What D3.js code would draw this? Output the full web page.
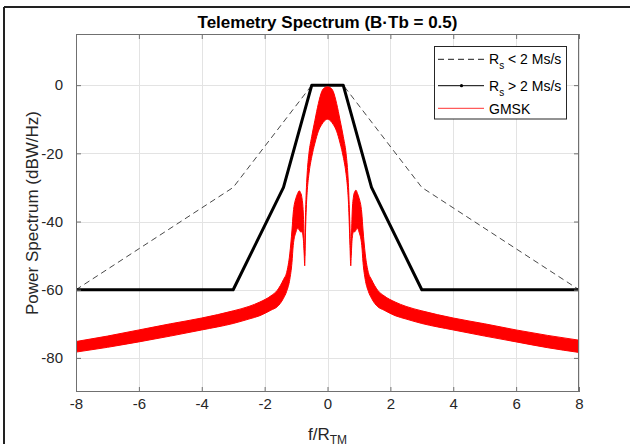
<!DOCTYPE html>
<html>
<head>
<meta charset="utf-8">
<script src="https://cdn.jsdelivr.net/npm/d3@7"></script>
<style>
  html, body { margin: 0; padding: 0; background: #fff; }
  svg { display: block; font-family: "Liberation Sans", Arial, Helvetica, sans-serif; }
</style>
</head>
<body>
<svg id="chart" width="630" height="444"></svg>
<script>
// ---- data ----
const xTicks = [-8, -6, -4, -2, 0, 2, 4, 6, 8];
const yTicks = [-80, -60, -40, -20, 0];

// Rs < 2 Ms/s mask (dashed)
const maskLowF = [-8, -3, -0.5, 0.5, 3, 8];
const maskLowP = [-60, -30, 0, 0, -30, -60];

// Rs > 2 Ms/s mask (solid)
const maskHighF = [-8, -3, -1.4, -0.5, 0.5, 1.4, 3, 8];
const maskHighP = [-60, -60, -30, 0, 0, -30, -60, -60];

// GMSK spectrum envelope (upper / lower edges of the noisy trace)
const gmskF = [-8, -7, -6, -5, -4, -3, -2.5, -2.15, -1.8, -1.6, -1.5, -1.4, -1.3, -1.2, -1.13, -1.09, -1.0, -0.95, -0.9, -0.86, -0.82, -0.77, -0.74, -0.725,
  -0.71, -0.69, -0.67, -0.64, -0.59, -0.5, -0.4, -0.29, -0.18, -0.1, 0,
  0.1, 0.18, 0.29, 0.4, 0.5, 0.59, 0.64, 0.67, 0.69, 0.715,
  0.74, 0.755, 0.785, 0.83, 0.87, 0.905, 0.955, 1.0, 1.09, 1.13, 1.2, 1.3, 1.4, 1.5, 1.6, 1.8, 2.15, 2.5, 3, 4, 5, 6, 7, 8];
const gmskUpper = [-75.2, -73.6, -71.8, -70.0, -68.3, -66.2, -64.9, -63.6, -61.8, -60.2, -58.8, -57.0, -55.0, -49.5, -42.5, -37.5, -33.0, -31.8, -31.0, -31.5, -32.7, -37.5, -46.8, -50.0,
  -42.0, -35.0, -30.0, -25.0, -20.0, -15.0, -10.3, -5.4, -1.8, -0.8, -0.5,
  -0.8, -1.8, -5.4, -10.3, -15.0, -20.0, -25.0, -30.0, -35.0, -42.0,
  -50.0, -46.5, -37.5, -32.5, -31.2, -30.8, -31.8, -33.0, -37.5, -42.5, -49.5, -55.0, -57.0, -58.8, -60.2, -61.8, -63.6, -64.9, -66.2, -68.3, -70.0, -71.8, -73.4, -74.8];
const gmskLower = [-78.3, -76.9, -75.3, -73.6, -71.8, -69.9, -68.6, -67.6, -66.0, -65.0, -64.0, -62.5, -60.5, -57.0, -52.0, -47.0, -43.0, -42.0, -42.5, -43.0, -43.0, -45.0, -50.0, -53.0,
  -47.0, -40.0, -35.0, -30.5, -26.0, -21.0, -17.0, -13.5, -11.5, -10.5, -10.0,
  -10.5, -11.5, -13.5, -17.0, -21.0, -26.0, -30.5, -35.0, -40.0, -47.0,
  -53.0, -50.0, -45.0, -43.0, -43.0, -42.5, -42.0, -43.0, -47.0, -52.0, -57.0, -60.5, -62.5, -64.0, -65.0, -66.0, -67.6, -68.6, -69.9, -71.8, -73.6, -75.3, -77.0, -78.4];

const titleText = "Telemetry Spectrum (B\u00B7Tb = 0.5)";
const yLabelText = "Power Spectrum (dBW/Hz)";

// ---- layout ----
const L = 76, R = 579, T = 34, B = 392;
const svg = d3.select("#chart");
const x = d3.scaleLinear().domain([-8, 8]).range([L, R]);
const y = d3.scaleLinear().domain([-90, 15]).range([B, T]);
const fmt = d => String(d);

// outer frame (screenshot border)
svg.append("line").attr("x1", 4).attr("x2", 630).attr("y1", 7).attr("y2", 7)
  .attr("stroke", "#222").attr("stroke-width", 2);
svg.append("line").attr("x1", 4).attr("x2", 4).attr("y1", 7).attr("y2", 444)
  .attr("stroke", "#222").attr("stroke-width", 2);

// grid
const grid = svg.append("g").attr("stroke", "#e3e3e3").attr("stroke-width", 1);
grid.selectAll(".gx").data(xTicks).join("line")
  .attr("x1", d => Math.round(x(d)) + 0.5).attr("x2", d => Math.round(x(d)) + 0.5)
  .attr("y1", T).attr("y2", B);
grid.selectAll(".gy").data(yTicks).join("line")
  .attr("y1", d => Math.round(y(d)) + 0.5).attr("y2", d => Math.round(y(d)) + 0.5)
  .attr("x1", L).attr("x2", R);

// clip
svg.append("clipPath").attr("id", "clip").append("rect")
  .attr("x", L).attr("y", T).attr("width", R - L).attr("height", B - T);
const plot = svg.append("g").attr("clip-path", "url(#clip)");

const line = d3.line().x(d => x(d[0])).y(d => y(d[1]));

plot.append("path")
  .datum(maskLowF.map((f, i) => [f, maskLowP[i]]))
  .attr("d", line).attr("fill", "none")
  .attr("stroke", "#333").attr("stroke-width", 0.9).attr("stroke-dasharray", "6,4");

plot.append("path")
  .datum(maskHighF.map((f, i) => [f, maskHighP[i]]))
  .attr("d", line).attr("fill", "none")
  .attr("stroke", "#000").attr("stroke-width", 3).attr("stroke-linejoin", "round");

const area = d3.area()
  .x(d => x(d.f)).y0(d => y(d.lo)).y1(d => y(d.hi))
  .curve(d3.curveMonotoneX);
const gm = gmskF.map((f, i) => ({ f, hi: gmskUpper[i], lo: gmskLower[i] }));
plot.append("path").datum(gm).attr("d", area)
  .attr("fill", "#ff0000").attr("stroke", "#ff0000").attr("stroke-width", 1);

// box
svg.append("rect").attr("x", L + 0.5).attr("y", T + 0.5)
  .attr("width", R - L - 1).attr("height", B - T - 1)
  .attr("fill", "none").attr("stroke", "#707070").attr("stroke-width", 1);

// axes
function styleAxis(g) {
  g.select(".domain").remove();
  g.selectAll(".tick line").attr("stroke", "#707070");
  g.selectAll(".tick text").attr("fill", "#262626").attr("font-size", 15)
    .attr("font-family", "'Liberation Sans', Arial, Helvetica, sans-serif");
}
svg.append("g").attr("transform", `translate(0,${B})`)
  .call(d3.axisBottom(x).tickValues(xTicks).tickSizeInner(-5).tickSizeOuter(0).tickPadding(14).tickFormat(fmt))
  .call(styleAxis)
  .call(g => g.selectAll(".tick text").attr("dy", "0.2em"));
svg.append("g").attr("transform", `translate(0,${T})`)
  .call(d3.axisTop(x).tickValues(xTicks).tickSizeInner(-5).tickSizeOuter(0).tickFormat(""))
  .call(styleAxis);
svg.append("g").attr("transform", `translate(${L},0)`)
  .call(d3.axisLeft(y).tickValues(yTicks).tickSizeInner(-5).tickSizeOuter(0).tickPadding(13).tickFormat(fmt))
  .call(styleAxis);
svg.append("g").attr("transform", `translate(${R},0)`)
  .call(d3.axisRight(y).tickValues(yTicks).tickSizeInner(-5).tickSizeOuter(0).tickFormat(""))
  .call(styleAxis);

// title
svg.append("text").attr("x", (L + R) / 2).attr("y", 28)
  .attr("text-anchor", "middle").attr("font-size", 17).attr("font-weight", "bold")
  .attr("fill", "#000").text(titleText);

// y label
svg.append("text").attr("transform", `translate(38,${(T + B) / 2}) rotate(-90)`)
  .attr("text-anchor", "middle").attr("font-size", 17).attr("fill", "#262626")
  .text(yLabelText);

// x label f/R_TM
const xl = svg.append("text").attr("x", (L + R) / 2).attr("y", 440)
  .attr("text-anchor", "middle").attr("font-size", 17).attr("fill", "#262626");
xl.append("tspan").text("f/R");
xl.append("tspan").attr("font-size", 12).attr("dy", 4).text("TM");

// legend
const lg = svg.append("g");
lg.append("rect").attr("x", 434.5).attr("y", 46.5).attr("width", 132).attr("height", 72.5)
  .attr("fill", "#fff").attr("stroke", "#262626").attr("stroke-width", 1);
const rows = [
  { y: 59.3, type: "dash", label: ["R", "s", " < 2 Ms/s"] },
  { y: 85.7, type: "solid", label: ["R", "s", " > 2 Ms/s"] },
  { y: 108.3, type: "red", label: ["GMSK"] }
];
rows.forEach(r => {
  const ln = lg.append("line").attr("x1", 438).attr("x2", 484).attr("y1", r.y).attr("y2", r.y);
  if (r.type === "dash") ln.attr("stroke", "#000").attr("stroke-width", 0.9).attr("stroke-dasharray", "6,4");
  if (r.type === "solid") {
    ln.attr("stroke", "#000").attr("stroke-width", 1);
    lg.append("circle").attr("cx", 461.5).attr("cy", r.y).attr("r", 1.6).attr("fill", "#000");
  }
  if (r.type === "red") ln.attr("stroke", "#ff3333").attr("stroke-width", 1);
  const t = lg.append("text").attr("x", 489).attr("y", r.y + 5).attr("font-size", 14).attr("fill", "#000");
  if (r.label.length === 3) {
    t.append("tspan").text(r.label[0]);
    t.append("tspan").attr("font-size", 10).attr("dy", 5).text(r.label[1]);
    t.append("tspan").attr("dy", -5).text(r.label[2]);
  } else {
    t.attr("y", r.y + 5.7).text(r.label[0]);
  }
});
</script>
</body>
</html>
